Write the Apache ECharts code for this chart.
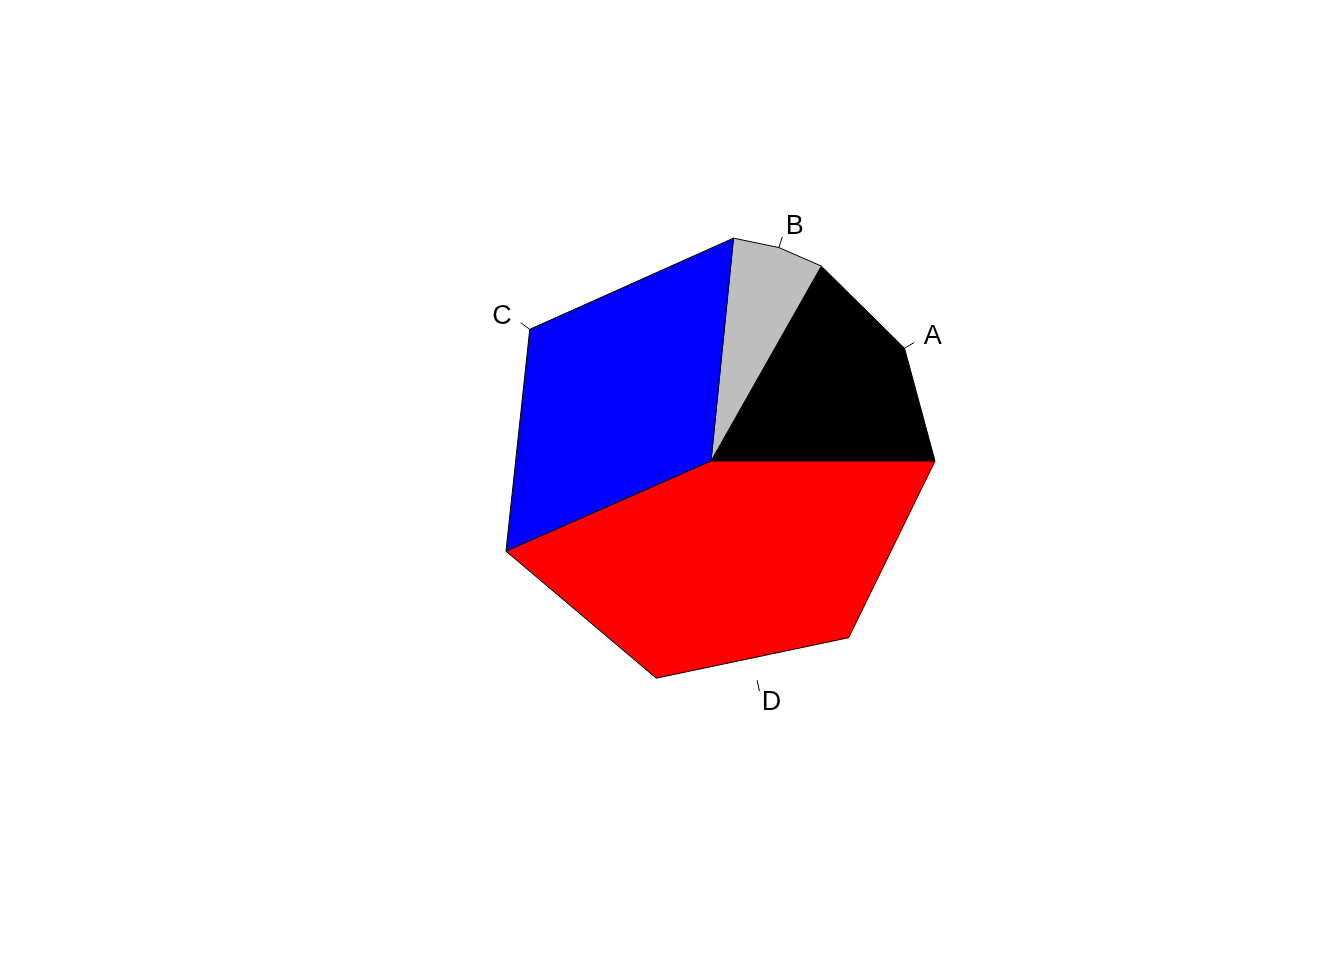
<!DOCTYPE html>
<html><head><meta charset="utf-8">
<script src="https://cdn.jsdelivr.net/npm/echarts@6/dist/echarts.min.js"></script>
<style>html,body{margin:0;padding:0;background:#fff}#c{width:1344px;height:960px}</style>
</head><body><div id="c"></div>
<script>
const categories = ['A','B','C','D'];
const values = [16.8, 6.6, 33.2, 43.4];
const colors = ['#000000','#bebebe','#0000ff','#ff0000'];
const EDGES = 7;
const total = values.reduce((a,b)=>a+b,0);
const cum = [0]; values.forEach(v=>cum.push(cum[cum.length-1]+v/total));
const chart = echarts.init(document.getElementById('c'));
chart.setOption({
  animation:false,
  grid:{left:487,top:237,width:448,height:448},
  xAxis:{type:'value',min:-1,max:1,show:false},
  yAxis:{type:'value',min:-1,max:1,show:false},
  series:[{
    type:'custom',
    data: categories.map((c,i)=>[i]),
    renderItem:function(params,api){
      const i = api.value(0);
      const a0 = cum[i], a1 = cum[i+1];
      const n = Math.max(2, Math.floor(EDGES*(a1-a0)));
      const pts=[api.coord([0,0])];
      for(let k=0;k<=n;k++){
        const t=2*Math.PI*(a0+(a1-a0)*k/n);
        pts.push(api.coord([Math.cos(t),Math.sin(t)]));
      }
      const tm = 2*Math.PI*(a0+a1)/2;
      const cx=Math.cos(tm), sy=Math.sin(tm);
      const p1=api.coord([cx,sy]), p2=api.coord([1.05*cx,1.05*sy]), p3=api.coord([1.1*cx,1.1*sy]);
      return {type:'group',children:[
        {type:'polygon',shape:{points:pts},style:{fill:colors[i],stroke:'#000',lineWidth:1}},
        {type:'line',shape:{x1:p1[0],y1:p1[1],x2:p2[0],y2:p2[1]},style:{stroke:'#000',lineWidth:1}},
        {type:'text',x:p3[0],y:p3[1],style:{text:categories[i],fill:'#000',font:'27px "Liberation Sans", Arial, sans-serif',align:cx>0?'left':'right',verticalAlign:'middle'}}
      ]};
    }
  }]
});
</script></body></html>
